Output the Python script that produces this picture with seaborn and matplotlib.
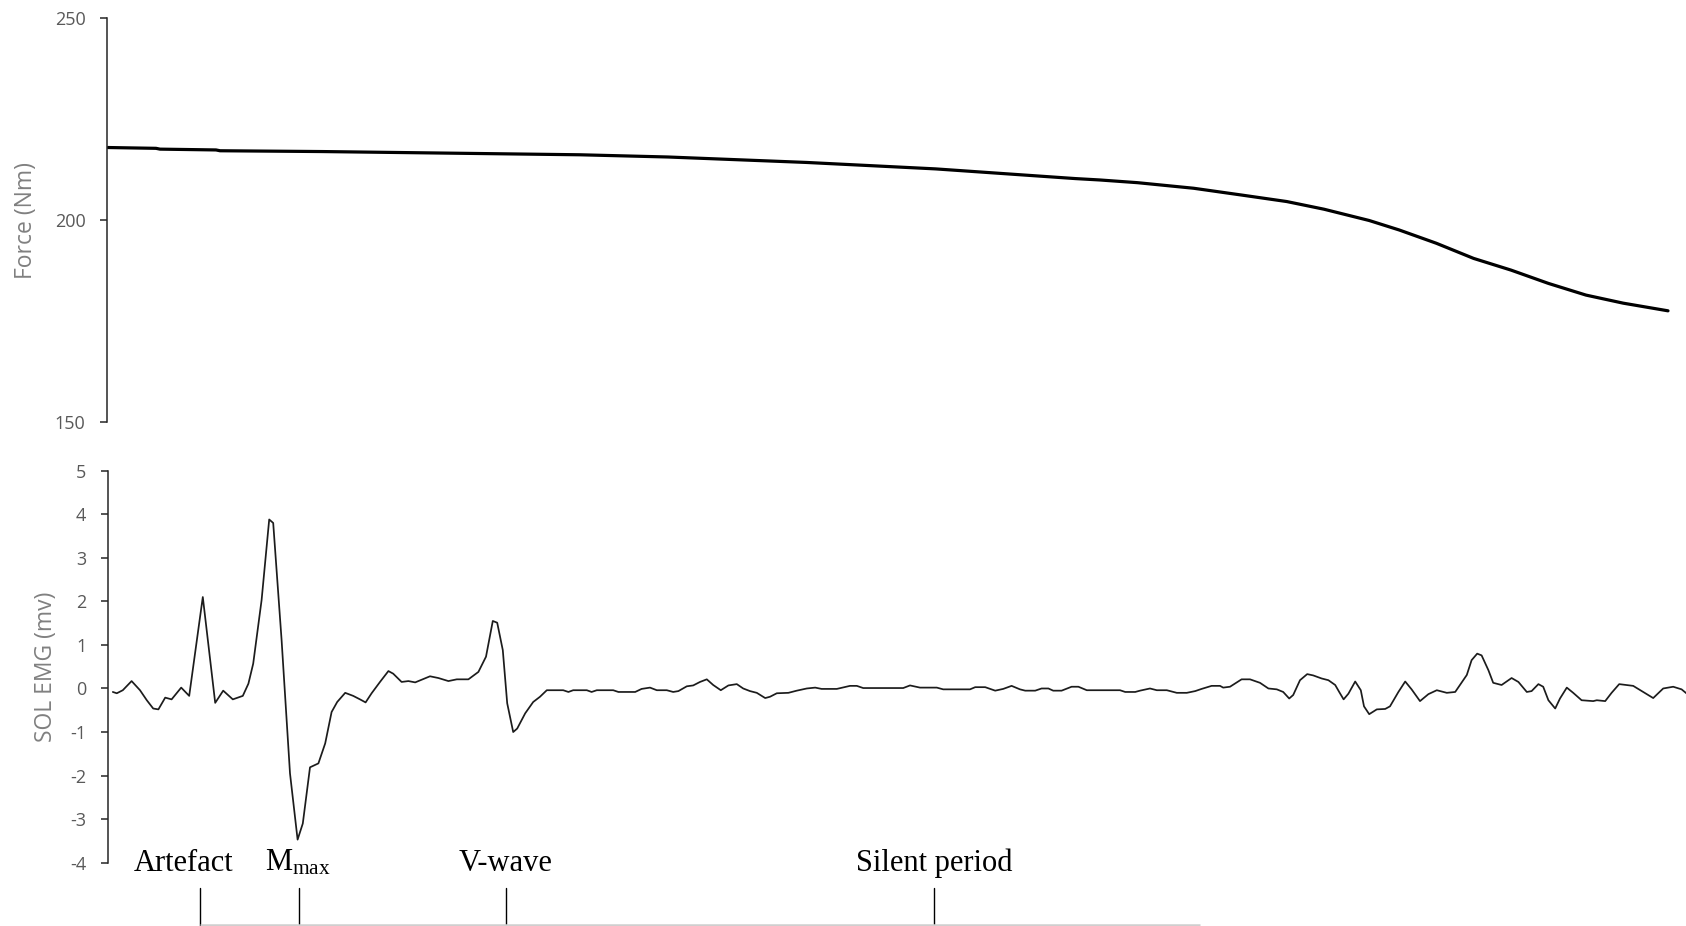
import matplotlib
matplotlib.use("Agg")
import matplotlib.pyplot as plt
import matplotlib.transforms as mtransforms
import pandas as pd
import seaborn as sns

# ---- Plantar-flexion force (Nm) over the sweep, time in ms ----
force_time = [0, 12, 13, 27, 28, 53.6, 118, 140, 174.6, 206.9, 241.8, 248,
              257.4, 271.4, 283.5, 294.7, 304, 315.3, 322.8, 332.1, 341.4,
              350.75, 360.1, 369.5, 378.8, 390]
force_nm = [218.0, 217.8, 217.6, 217.4, 217.2, 217.0, 216.2, 215.65, 214.3,
            212.7, 210.3, 209.95, 209.28, 207.9, 206.2, 204.6, 202.7, 199.9,
            197.55, 194.25, 190.5, 187.6, 184.3, 181.4, 179.4, 177.5]

# ---- Soleus EMG (mV), time in ms ----
emg_time = [1.2, 2.2, 3.7, 5.9, 8.0, 9.7, 11.3, 12.6, 14.3, 15.9, 18.3, 20.3,
            23.7, 26.8, 28.8, 31.2, 33.7, 35.1, 36.3, 38.4, 40.3, 41.3, 43.4,
            45.5, 47.4, 48.7, 50.5, 52.6, 54.3, 55.9, 57.3, 59.3, 61.3, 63.0,
            64.4, 65.9, 68.0, 70.1, 71.3, 73.4, 75.1, 76.8, 80.5, 82.6, 85.1,
            87.2, 90.1, 92.6, 94.5, 96.2, 97.3, 98.7, 99.8, 101.3, 102.3,
            104.3, 106.3, 108.0, 109.7, 113.8, 115.1, 116.3, 119.7, 120.9,
            122.2, 126.3, 127.6, 131.8, 133.4, 135.5, 137.2, 139.7, 141.3,
            142.6, 144.7, 146.3, 148.0, 149.7, 151.3, 153.2, 155.1, 157.2,
            158.8, 160.5, 162.2, 164.3, 165.5, 167.2, 170.1, 172.2, 174.7,
            176.8, 178.4, 182.2, 185.5, 187.2, 188.8, 198.8, 200.5, 203.0,
            207.2, 208.8, 215.5, 216.8, 219.3, 221.8, 223.8, 225.9, 228.0,
            229.3, 231.8, 233.4, 235.1, 236.3, 238.4, 240.9, 242.6, 244.7,
            253.0, 254.3, 256.8, 258.0, 260.5, 262.2, 264.7, 267.2, 269.7,
            271.8, 273.4, 275.9, 278.0, 278.8, 280.5, 283.4, 285.5, 288.0,
            290.1, 292.2, 293.8, 295.3, 296.3, 298.0, 299.8, 301.3, 303.4,
            305.1, 306.8, 307.8, 308.9, 310.1, 311.8, 313.2, 314.0, 315.3,
            317.2, 319.3, 320.5, 322.6, 324.3, 325.9, 328.0, 330.1, 332.2,
            334.7, 336.8, 339.7, 340.9, 342.3, 343.4, 345.1, 346.3, 348.4,
            350.9, 352.6, 354.7, 355.9, 357.6, 358.8, 360.1, 361.8, 363.0,
            364.7, 366.3, 368.4, 371.3, 372.2, 374.3, 375.9, 377.8, 381.3,
            383.8, 386.3, 388.8, 391.3, 393.4, 395.5]
emg_mv = [-0.08, -0.11, -0.04, 0.17, -0.04, -0.27, -0.46, -0.48, -0.21, -0.25,
          0.02, -0.17, 2.10, -0.33, -0.05, -0.25, -0.17, 0.11, 0.57, 2.03,
          3.88, 3.80, 1.11, -1.95, -3.47, -3.10, -1.81, -1.72, -1.26, -0.54,
          -0.31, -0.10, -0.17, -0.25, -0.32, -0.11, 0.15, 0.40, 0.34, 0.15,
          0.17, 0.14, 0.28, 0.24, 0.17, 0.21, 0.21, 0.38, 0.73, 1.55, 1.51,
          0.88, -0.34, -1.00, -0.92, -0.57, -0.31, -0.19, -0.04, -0.04, -0.08,
          -0.04, -0.04, -0.08, -0.04, -0.04, -0.08, -0.08, -0.01, 0.02, -0.04,
          -0.04, -0.08, -0.06, 0.05, 0.07, 0.15, 0.21, 0.08, -0.04, 0.07, 0.10,
          0.00, -0.06, -0.10, -0.22, -0.19, -0.11, -0.10, -0.05, 0.00, 0.02,
          -0.01, -0.01, 0.06, 0.06, 0.01, 0.01, 0.07, 0.02, 0.02, -0.02, -0.02,
          0.03, 0.03, -0.05, -0.01, 0.06, -0.02, -0.05, -0.05, 0.00, 0.00,
          -0.05, -0.05, 0.04, 0.04, -0.04, -0.04, -0.08, -0.08, -0.05, 0.00,
          -0.04, -0.04, -0.10, -0.10, -0.06, -0.01, 0.06, 0.06, 0.02, 0.04,
          0.21, 0.21, 0.13, 0.00, -0.02, -0.08, -0.23, -0.15, 0.19, 0.33, 0.30,
          0.23, 0.19, 0.08, -0.08, -0.25, -0.12, 0.16, -0.04, -0.41, -0.59,
          -0.48, -0.47, -0.41, -0.08, 0.16, -0.02, -0.29, -0.13, -0.04, -0.10,
          -0.08, 0.31, 0.65, 0.80, 0.76, 0.42, 0.13, 0.08, 0.24, 0.15, -0.08,
          -0.06, 0.10, 0.04, -0.27, -0.46, -0.23, 0.02, -0.10, -0.27, -0.29,
          -0.27, -0.29, -0.10, 0.10, 0.06, -0.08, -0.22, 0.00, 0.04, -0.02,
          -0.18]

# ---- Event markers under the EMG trace (ms) ----
event_labels = ["Artefact", "M$_{\\mathrm{max}}$", "V-wave", "Silent period"]
event_label_time = [18.8, 47.5, 99.5, 206.5]
event_tick_time = [23.1, 47.7, 99.5, 206.5]
timeline_span = [23.1, 273.1]

force_df = pd.DataFrame({"time": force_time, "force": force_nm})
emg_df = pd.DataFrame({"time": emg_time, "emg": emg_mv})

sns.set_style("white")
plt.rcParams["font.family"] = ["Open Sans", "DejaVu Sans"]
plt.rcParams["axes.unicode_minus"] = False
plt.rcParams["mathtext.fontset"] = "custom"
plt.rcParams["mathtext.rm"] = "Liberation Serif"
plt.rcParams["mathtext.it"] = "Liberation Serif:italic"

W, H = 1686, 926
fig = plt.figure(figsize=(W / 100, H / 100), dpi=100)
fig.patch.set_facecolor("white")

ax_f = fig.add_axes([107 / W, 1 - 421.7 / H, (W - 107) / W, (421.7 - 18.5) / H])
ax_e = fig.add_axes([108 / W, 1 - 862.7 / H, (W - 108) / W, (862.7 - 470.7) / H])

sns.lineplot(data=force_df, x="time", y="force", ax=ax_f, color="black",
             linewidth=2.3, sort=False, estimator=None)
sns.lineplot(data=emg_df, x="time", y="emg", ax=ax_e, color="#1c1c1c",
             linewidth=1.25, sort=False, estimator=None)
for ax in (ax_f, ax_e):
    for ln in ax.lines:
        ln.set_solid_joinstyle("round")

ax_f.set_xlim(-0.25, 394.5)
ax_e.set_xlim(0, 394.5)
ax_f.set_ylim(150, 250)
ax_e.set_ylim(-4, 5)
ax_f.set_yticks([150, 200, 250])
ax_e.set_yticks(range(-4, 6))

for ax in (ax_f, ax_e):
    ax.set_facecolor("none")
    for side in ("top", "right", "bottom"):
        ax.spines[side].set_visible(False)
    ax.spines["left"].set_color("#262626")
    ax.spines["left"].set_linewidth(1.1)
    ax.set_xticks([])
    ax.set_xlabel("")
    ax.tick_params(axis="y", direction="out", length=5, width=1.1,
                   color="#262626", labelcolor="#595959", labelsize=13,
                   pad=10.5, left=True)

ax_f.set_ylabel("Force (Nm)", color="#808080", fontsize=16.5)
ax_e.set_ylabel("SOL EMG (mv)", color="#808080", fontsize=16.5)
ax_f.yaxis.set_label_coords(-0.0435, 0.5)
ax_e.yaxis.set_label_coords(-0.0320, 0.5)

# Event labels, ticks and timeline beneath the EMG panel
trans = mtransforms.blended_transform_factory(ax_e.transData, fig.transFigure)
for name, tx in zip(event_labels, event_label_time):
    ax_e.text(tx, 1 - 870.7 / H, name, transform=trans, ha="center",
              va="baseline", fontsize=22, family="Liberation Serif",
              color="black", clip_on=False)
for tx in event_tick_time:
    ax_e.plot([tx, tx], [1 - 888.3 / H, 0], transform=trans, color="black",
              linewidth=1.0, clip_on=False)
ax_e.plot(timeline_span, [1.2 / H, 1.2 / H], transform=trans, color="#cfcfcf",
          linewidth=1.8, clip_on=False, solid_capstyle="butt")

fig.savefig("out.png", dpi=100, facecolor="white")
